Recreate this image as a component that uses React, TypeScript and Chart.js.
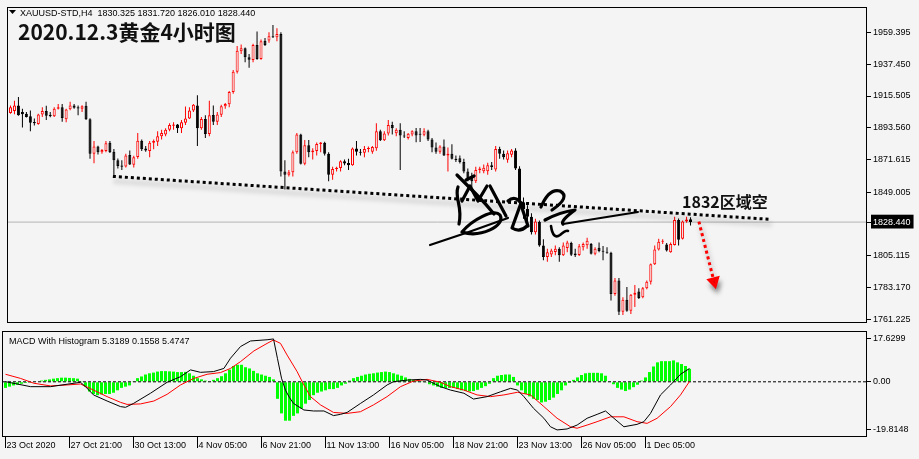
import React, { useEffect, useRef } from 'react';
import { Chart, registerables } from 'chart.js';

Chart.register(...registerables);

const BG = '#f4f4f4';
const UP = '#ff0000';
const DOWN = '#000000';
const MT_FONT = '"Liberation Sans", Arial, sans-serif';

// H4 candles, [open, high, low, close], bar index 0 = 23 Oct 2020
const ohlc: number[][] = [
  [1903.8, 1908.9, 1903.2, 1907.8], [1905.1, 1912.2, 1902.9, 1908.9], [1908.9, 1914.9, 1901.8, 1902.2], [1904.4, 1906.7, 1893.8, 1902.9],
  [1903.3, 1904.4, 1900.7, 1901.1], [1901.5, 1905.5, 1891.1, 1897.1], [1897.6, 1900.0, 1895.1, 1896.7], [1896.2, 1903.3, 1895.7, 1902.7],
  [1902.7, 1907.8, 1901.1, 1905.1], [1905.1, 1908.7, 1898.9, 1901.8], [1902.5, 1904.4, 1900.8, 1901.5], [1901.6, 1907.8, 1901.1, 1906.7],
  [1906.7, 1910.0, 1906.2, 1907.8], [1907.8, 1910.0, 1897.8, 1900.4], [1899.5, 1906.7, 1897.4, 1906.2], [1906.4, 1911.6, 1905.6, 1908.9],
  [1908.9, 1910.0, 1906.7, 1907.4], [1907.8, 1908.9, 1902.2, 1906.9], [1906.7, 1909.2, 1904.4, 1908.5], [1908.7, 1911.6, 1899.0, 1899.4],
  [1899.4, 1900.2, 1872.2, 1875.6], [1875.6, 1884.4, 1869.1, 1880.7], [1880.7, 1881.2, 1875.1, 1876.7], [1876.7, 1878.9, 1875.6, 1878.3],
  [1877.6, 1884.4, 1876.7, 1882.9], [1883.2, 1884.4, 1876.2, 1876.7], [1877.0, 1878.9, 1859.0, 1871.2], [1871.2, 1872.3, 1865.5, 1867.2],
  [1867.6, 1871.2, 1864.4, 1866.7], [1866.9, 1875.6, 1866.2, 1874.5], [1874.8, 1877.8, 1867.8, 1868.3], [1868.1, 1874.3, 1866.1, 1873.2],
  [1873.4, 1889.9, 1872.2, 1884.7], [1884.7, 1885.5, 1877.6, 1878.7], [1879.2, 1881.0, 1877.1, 1877.8], [1877.6, 1884.4, 1873.2, 1883.2],
  [1883.2, 1885.5, 1878.7, 1884.4], [1884.0, 1891.1, 1881.0, 1887.7], [1887.7, 1892.2, 1885.5, 1889.9], [1889.0, 1893.3, 1887.7, 1892.2],
  [1892.2, 1896.7, 1891.1, 1895.5], [1895.0, 1897.4, 1892.2, 1895.8], [1895.8, 1896.2, 1889.9, 1893.3], [1893.3, 1898.9, 1889.9, 1897.4],
  [1897.0, 1908.2, 1895.5, 1900.0], [1900.0, 1907.8, 1899.6, 1905.5], [1905.5, 1910.0, 1904.4, 1909.4], [1909.0, 1916.0, 1881.0, 1893.3],
  [1893.3, 1901.1, 1892.2, 1899.6], [1899.6, 1902.2, 1886.6, 1889.3], [1889.3, 1912.2, 1887.7, 1902.2], [1902.4, 1908.9, 1895.5, 1897.7],
  [1897.7, 1904.4, 1895.5, 1902.7], [1902.5, 1909.4, 1901.1, 1908.5], [1908.4, 1910.7, 1906.7, 1910.0], [1909.8, 1918.9, 1907.8, 1918.2],
  [1918.2, 1933.4, 1917.0, 1932.2], [1932.2, 1950.1, 1931.1, 1946.7], [1946.5, 1951.1, 1944.5, 1948.5], [1948.5, 1949.0, 1938.9, 1942.3],
  [1942.3, 1944.5, 1935.1, 1940.5], [1940.3, 1951.6, 1938.9, 1950.7], [1950.8, 1960.1, 1940.5, 1941.1], [1941.1, 1954.5, 1940.5, 1953.4],
  [1953.6, 1955.6, 1950.1, 1950.7], [1953.8, 1959.6, 1952.3, 1956.7], [1956.7, 1964.5, 1955.6, 1956.1], [1956.1, 1962.3, 1953.4, 1958.3],
  [1958.3, 1959.5, 1860.0, 1863.3], [1863.3, 1871.2, 1851.0, 1861.1], [1861.1, 1864.4, 1860.0, 1862.9], [1862.9, 1877.8, 1860.0, 1876.7],
  [1876.7, 1890.0, 1875.6, 1888.9], [1888.9, 1889.5, 1868.3, 1868.8], [1868.8, 1885.1, 1867.7, 1881.5], [1881.5, 1885.1, 1873.3, 1876.7],
  [1876.7, 1879.4, 1871.7, 1877.8], [1877.6, 1883.4, 1874.4, 1882.3], [1882.3, 1883.8, 1876.7, 1883.4], [1883.2, 1884.0, 1874.4, 1875.6],
  [1875.6, 1876.7, 1856.7, 1861.1], [1861.1, 1866.7, 1857.7, 1865.1], [1865.1, 1866.7, 1863.3, 1866.0], [1865.8, 1871.1, 1863.3, 1870.4],
  [1870.4, 1871.7, 1867.7, 1868.9], [1869.2, 1872.2, 1864.4, 1867.7], [1867.7, 1880.0, 1867.3, 1879.3], [1879.3, 1884.4, 1874.4, 1877.1],
  [1877.1, 1878.9, 1874.4, 1876.4], [1876.4, 1881.0, 1873.3, 1878.9], [1878.9, 1880.7, 1876.7, 1879.5], [1877.0, 1881.0, 1875.6, 1880.3],
  [1879.5, 1896.7, 1877.7, 1891.1], [1891.1, 1892.2, 1884.4, 1884.9], [1884.9, 1891.1, 1884.4, 1889.6], [1889.6, 1898.9, 1888.2, 1895.5],
  [1895.5, 1897.8, 1888.9, 1893.3], [1889.8, 1893.3, 1887.7, 1892.2], [1892.2, 1896.7, 1864.4, 1888.2], [1888.2, 1891.1, 1886.6, 1887.5],
  [1886.6, 1890.0, 1885.5, 1889.4], [1889.0, 1891.8, 1887.7, 1891.1], [1891.1, 1893.5, 1883.5, 1888.2], [1889.3, 1893.5, 1883.8, 1888.7],
  [1888.7, 1893.3, 1887.7, 1891.1], [1891.1, 1892.2, 1884.4, 1885.5], [1885.5, 1886.6, 1876.7, 1880.0], [1880.0, 1883.4, 1875.6, 1877.1],
  [1877.1, 1881.5, 1875.6, 1880.7], [1880.7, 1885.5, 1874.0, 1874.4], [1874.4, 1880.0, 1863.3, 1875.6], [1875.6, 1882.2, 1871.7, 1872.2],
  [1872.2, 1874.4, 1870.0, 1871.3], [1872.5, 1874.4, 1868.9, 1870.0], [1870.0, 1872.2, 1862.2, 1863.3], [1863.3, 1865.5, 1856.7, 1858.9],
  [1860.0, 1862.5, 1852.2, 1856.7], [1856.7, 1866.7, 1855.5, 1864.4], [1864.4, 1866.7, 1862.2, 1865.5], [1863.5, 1868.2, 1862.2, 1866.0],
  [1863.5, 1869.5, 1861.1, 1867.7], [1867.7, 1870.0, 1864.4, 1866.5], [1864.8, 1881.0, 1863.3, 1879.0], [1879.0, 1880.5, 1872.2, 1875.6],
  [1875.6, 1877.8, 1871.7, 1873.3], [1871.5, 1877.8, 1869.5, 1876.0], [1875.0, 1878.9, 1873.3, 1877.8], [1877.8, 1879.4, 1864.4, 1865.5],
  [1865.5, 1867.0, 1837.5, 1842.2], [1842.2, 1845.5, 1830.8, 1837.5], [1837.5, 1840.0, 1829.0, 1832.2], [1832.2, 1834.5, 1819.8, 1821.5],
  [1821.5, 1830.8, 1819.8, 1828.8], [1828.5, 1829.5, 1811.5, 1812.2], [1812.2, 1816.6, 1802.1, 1804.3], [1804.3, 1810.0, 1801.0, 1807.7],
  [1806.0, 1810.0, 1804.3, 1808.8], [1807.8, 1812.2, 1805.5, 1810.0], [1810.0, 1811.0, 1801.0, 1805.5], [1805.5, 1814.4, 1805.0, 1812.2],
  [1810.5, 1815.5, 1807.7, 1814.4], [1814.0, 1814.8, 1805.0, 1805.9], [1806.8, 1810.0, 1804.3, 1805.5], [1805.8, 1813.3, 1805.0, 1811.7],
  [1811.0, 1814.4, 1808.8, 1813.3], [1812.5, 1817.7, 1810.0, 1815.5], [1813.3, 1814.0, 1806.0, 1806.6], [1806.6, 1811.0, 1805.5, 1810.0],
  [1810.8, 1814.4, 1807.7, 1808.5], [1808.5, 1812.0, 1802.1, 1807.9], [1807.9, 1811.0, 1806.6, 1807.3], [1807.3, 1808.0, 1774.3, 1778.8],
  [1778.8, 1789.9, 1777.6, 1788.1], [1788.1, 1789.9, 1764.3, 1766.6], [1766.6, 1776.6, 1764.3, 1774.8], [1774.8, 1783.7, 1766.6, 1767.2],
  [1767.2, 1778.8, 1765.0, 1778.3], [1778.3, 1785.0, 1769.9, 1779.6], [1780.5, 1782.8, 1775.4, 1776.1], [1776.5, 1783.7, 1775.8, 1782.8],
  [1782.8, 1788.1, 1782.1, 1787.3], [1787.3, 1799.9, 1785.4, 1799.3], [1799.3, 1812.2, 1798.8, 1809.5], [1809.5, 1817.0, 1808.8, 1814.8],
  [1814.8, 1816.6, 1813.3, 1815.5], [1813.0, 1814.0, 1808.1, 1808.8], [1807.7, 1814.4, 1807.3, 1813.3], [1812.6, 1832.2, 1812.2, 1829.9],
  [1829.9, 1831.0, 1812.2, 1816.2], [1817.0, 1829.5, 1816.5, 1828.8], [1828.8, 1832.2, 1828.0, 1830.3], [1830.325, 1831.72, 1826.01, 1828.44],
];

const lastPrice = 1828.44;
const priceTicks = [1959.395, 1937.45, 1915.505, 1893.56, 1871.615, 1849.005, 1828.44, 1805.115, 1783.17, 1761.225];

// MACD histogram (one value per candle)
const histogram = [
  -2.5, -2.0, -1.5, -1.2, -0.8, -0.5, -0.3, -0.2, 0.2, 0.5, 0.8, 1.0, 1.3, 1.5, 1.7, 1.7, 1.6, 1.5, 1.3,
  0.3,
  -2.0, -4.0, -5.0, -5.5, -5.2, -5.0, -5.0, -4.5, -3.5, -2.5, -2.0, -1.5, 0.3,
  1.5, 2.2, 3.0, 3.5, 3.8, 4.2, 4.4, 4.4, 4.3, 4.2, 4.0, 4.0, 4.1, 3.5, 2.5, 1.5, 1.0, 0.5, 0.3,
  0.8, 1.5, 2.3, 3.5, 5.0, 6.5, 7.0, 7.0, 6.0, 5.5, 4.5, 3.5, 3.0, 2.5, 2.0, 1.0,
  -7, -13, -16, -16, -14, -13, -11, -9, -7.5, -5.5, -4.5, -4, -3.5, -3, -3, -2.5, -1.5, -0.8,
  0.5, 1.5, 2, 2.5, 3, 3.3, 3.5, 3.8, 4, 4.2, 4, 3.5, 3, 2.5, 1.8, 1.2, 0.8, 0.5, 0.3,
  -0.3, -1, -1.5, -2, -2.5, -2.5, -2.5, -2.5, -3, -3.5, -3.8, -4.0, -3.8, -3.3, -2.5, -1.8, -0.8,
  1.5, 2.5, 2.8, 3.0, 3.0, 2.0,
  -1.5, -3.5, -5, -6, -7, -7.5, -8.5, -8.2, -7.5, -6.5, -5, -3.5, -1.5, -0.5,
  0.8, 1.8, 2.8, 3.5, 3.7, 3.7, 3.7, 3.5, 2.5, 0.3,
  -1.0, -2.5, -3.2, -3.8, -3.2, -2.2, -1.2,
  0.5, 1.8, 4, 6.3, 8, 8.5, 8.5, 8.5, 8.8, 8.0, 7.3, 6.5, 5.32,
];

// MACD main line (black), read at these bar positions
const macdBars = [0, 6.25, 11.25, 15.4, 18.75, 20, 22, 25.4, 28.75, 30, 32, 36.25, 40.4, 43.75, 46.25, 48.75, 52, 54.6, 56.25, 58.75,
  61.25, 65.4, 67, 68, 69, 70, 71, 72, 74.6, 77, 79.6, 82, 83.75, 85.4, 88.75, 92, 95.4, 97, 100.4, 103.75, 105.4, 108.75,
  111.25, 114.6, 117, 120.4, 123.75, 126.25, 128, 129.6, 132, 134.6, 136.25, 137.9, 140.4, 142.9, 145.4, 147.9, 150, 152.1,
  154.6, 157.9, 159.6, 161.25, 163.75, 166.25, 168.75, 171];
const macdValues = [0.05, -2.0, -2.0, -1.0, -0.2, -2.0, -5.4, -7.9, -10.2, -10.5, -8.9, -4.7, -0.2, 2.1, 4.9, 3.9, 4.2, 5.5, 9.7, 14.5,
  16.8, 17.3, 17.63, 9.5, 1.5, -3.5, -6.5, -8.9, -11.6, -12.0, -12.0, -13.9, -13.4, -12.6, -8.9, -5.4, -1.3, 0.05, 0.7, 1.0, 0.7, -2.0,
  -3.4, -4.7, -7.1, -6.1, -4.1, -2.7, -3.4, -6.1, -10.9, -15.0, -18.5, -19.8, -19.4, -17.8, -15.0, -13.4, -12.0, -15.0,
  -18.5, -17.5, -16.4, -13.0, -5.4, -1.3, 3.1, 5.4747];

// Signal line (red)
const signalBars = [0, 3.75, 7.1, 11.25, 15.4, 18.75, 22, 25.4, 28.75, 30.4, 33.75, 37.1, 40.4, 43.75, 47.1, 50.4, 53.75, 56.25, 58.75,
  62.1, 65.4, 67, 68.75, 70.4, 72.9, 74.6, 76.25, 78.75, 82, 85.4, 88.75, 92, 95.4, 98.75, 102, 105.4, 108.75, 111.25, 114.6, 117.9,
  121.25, 124.6, 128, 131.25, 134.6, 137.9, 141.25, 142.9, 145.4, 147.9, 151.25, 154.6, 157.9, 160.4, 162.9, 166.25, 168.75, 171];
const signalValues = [3.1, 1.4, -0.6, -1.7, -1.3, -0.9, -3.4, -6.1, -8.45, -9.3, -9.1, -7.9, -5.15, -1.3, 1.4, 3.1, 3.8, 5.5, 8.3,
  12.7, 15.8, 17.2, 15.8, 11.0, 4.2, -1.3, -6.1, -9.5, -12.6, -13.0, -12.3, -9.5, -6.1, -2.0, 0.3, 1.0, -0.2, -2.0, -3.4, -5.4,
  -6.1, -5.4, -4.3, -5.4, -10.2, -15.0, -18.5, -19.1, -17.8, -16.4, -14.4, -14.4, -16.4, -17.1, -15.0, -10.2, -5.4, 0.1558];

const macdTicks = [17.6299, 0, -19.8148];
const timeLabelBars = [0, 16, 32, 48, 64, 80, 96, 112, 128, 144, 160];
const timeLabels = ['23 Oct 2020', '27 Oct 21:00', '30 Oct 13:00', '4 Nov 05:00', '6 Nov 21:00', '11 Nov 13:00',
  '16 Nov 05:00', '18 Nov 21:00', '23 Nov 13:00', '26 Nov 05:00', '1 Dec 05:00'];

// Hand-drawn annotations (bar position, price)
const trendBars = [25.75, 191.25];
const trendPrices = [1860.0, 1830.3];
const arrowBars = [173.1, 176.9];
const arrowPrices = [1828.8, 1787.5];

const X_MIN = -0.625;
const X_MAX = 215.375;
const Y_MIN = 1758.77;
const Y_MAX = 1976.28;
const M_MIN = -22.71;
const M_MAX = 20.49;

const framePlugin = {
  id: 'frame',
  beforeDraw(chart: any) {
    const { ctx, width, height } = chart;
    ctx.save();
    ctx.fillStyle = BG;
    ctx.fillRect(0, 0, width, height);
    ctx.restore();
  },
  afterDraw(chart: any) {
    const { ctx, chartArea: a } = chart;
    ctx.save();
    ctx.strokeStyle = '#000';
    ctx.lineWidth = 1;
    ctx.strokeRect(a.left - 0.5, a.top - 0.5, a.right - a.left, a.bottom - a.top);
    ctx.restore();
  },
};

const shadowPlugin = {
  id: 'dsShadow',
  beforeDatasetDraw(chart: any, args: any) {
    const ds = chart.data.datasets[args.index];
    if (ds && ds.shadow) {
      const ctx = chart.ctx;
      ctx.save();
      ctx.shadowColor = 'rgba(0,0,0,0.35)';
      ctx.shadowBlur = 5;
      ctx.shadowOffsetX = 2;
      ctx.shadowOffsetY = 5;
    }
  },
  afterDatasetDraw(chart: any, args: any) {
    const ds = chart.data.datasets[args.index];
    if (ds && ds.shadow) chart.ctx.restore();
  },
};

// handwritten author signature overlaid on the screenshot (decoration)
const signaturePlugin = {
  id: 'signature',
  afterDatasetsDraw(chart: any) {
    const ctx = chart.ctx;
    ctx.save();
    ctx.strokeStyle = '#000';
    ctx.lineCap = 'round';
    ctx.lineJoin = 'round';
    ctx.lineWidth = 3.2;
    const stroke = (f: () => void) => { ctx.beginPath(); f(); ctx.stroke(); };
    // left character
    stroke(() => { ctx.moveTo(458, 187); ctx.bezierCurveTo(454, 198, 463, 206, 459, 224); });
    stroke(() => { ctx.moveTo(457, 175); ctx.lineTo(476, 194); ctx.quadraticCurveTo(486, 204, 494, 214); });
    stroke(() => { ctx.moveTo(462, 201); ctx.lineTo(470, 186); ctx.lineTo(478, 201); ctx.lineTo(487, 186); });
    stroke(() => { ctx.moveTo(466, 180); ctx.lineTo(474, 176); });
    stroke(() => { ctx.moveTo(462, 232); ctx.bezierCurveTo(480, 238, 506, 226, 500, 215); ctx.bezierCurveTo(494, 208, 472, 220, 462, 232); });
    ctx.lineWidth = 2.2;
    stroke(() => { ctx.moveTo(430, 245); ctx.quadraticCurveTo(470, 232, 508, 218); });
    ctx.lineWidth = 3.2;
    // middle character
    stroke(() => { ctx.moveTo(490, 186); ctx.lineTo(506, 216); });
    stroke(() => { ctx.moveTo(508, 201); ctx.quadraticCurveTo(515, 195, 521, 203); ctx.lineTo(512, 228); ctx.quadraticCurveTo(520, 233, 527, 226); });
    stroke(() => { ctx.moveTo(521, 205); ctx.lineTo(528, 226); });
    // right character
    stroke(() => { ctx.moveTo(541, 207); ctx.quadraticCurveTo(549, 188, 560, 191); ctx.quadraticCurveTo(571, 197, 552, 210); });
    stroke(() => { ctx.moveTo(545, 220); ctx.quadraticCurveTo(560, 212, 575, 210); ctx.quadraticCurveTo(560, 221, 563, 224); });
    ctx.lineWidth = 2;
    stroke(() => { ctx.moveTo(563, 224); ctx.quadraticCurveTo(600, 218, 638, 212); });
    ctx.lineWidth = 2.6;
    stroke(() => { ctx.moveTo(551, 226); ctx.quadraticCurveTo(553, 240, 560, 235); ctx.quadraticCurveTo(566, 230, 568, 231); });
    ctx.restore();
  },
};

export default function App() {
  const mainRef = useRef<HTMLCanvasElement | null>(null);
  const macdRef = useRef<HTMLCanvasElement | null>(null);

  useEffect(() => {
    document.body.style.margin = '0';
    document.body.style.background = BG;
    Chart.defaults.font.family = MT_FONT;
    Chart.defaults.font.size = 9;

    const isUp = ohlc.map((c) => c[3] >= c[0]);
    const bodyData = ohlc.map((c, i) => ({ x: i, y: [c[0], c[3]] }));
    const wickData = ohlc.map((c, i) => ({ x: i, y: [c[2], c[1]] }));

    const mainTexts = {
      id: 'mainTexts',
      afterDraw(chart: any) {
        const ctx = chart.ctx;
        ctx.save();
        ctx.fillStyle = '#000';
        ctx.beginPath();
        ctx.moveTo(9, 10);
        ctx.lineTo(16, 10);
        ctx.lineTo(12.5, 14);
        ctx.closePath();
        ctx.fill();
        ctx.font = '9px ' + MT_FONT;
        ctx.textBaseline = 'alphabetic';
        ctx.fillText('XAUUSD-STD,H4  1830.325 1831.720 1826.010 1828.440', 20, 16);
        ctx.fillStyle = '#111';
        ctx.font = 'bold 21px "Noto Sans CJK SC", sans-serif';
        ctx.fillText('2020.12.3黄金4小时图', 18, 40);
        ctx.font = 'bold 16px "Noto Sans CJK SC", sans-serif';
        ctx.fillText('1832区域空', 682, 208);
        ctx.restore();
      },
    };

    const main = new Chart(mainRef.current as HTMLCanvasElement, {
      type: 'bar',
      data: {
        datasets: [
          {
            type: 'line',
            label: 'trend',
            data: trendBars.map((b, k) => ({ x: b, y: trendPrices[k] })),
            borderColor: '#000',
            borderWidth: 3,
            borderDash: [3, 3],
            pointRadius: 0,
            order: 0,
            shadow: true,
          } as any,
          {
            type: 'line',
            label: 'arrow',
            data: arrowBars.map((b, k) => ({ x: b, y: arrowPrices[k] })),
            borderColor: '#ff0000',
            borderWidth: 3,
            borderDash: [3, 3],
            pointRadius: [0, 5],
            pointStyle: 'triangle',
            pointRotation: 166,
            pointBackgroundColor: '#ff0000',
            pointBorderColor: '#ff0000',
            order: 0,
            shadow: true,
          } as any,
          {
            type: 'bar',
            label: 'body',
            data: bodyData,
            backgroundColor: isUp.map((u) => (u ? BG : DOWN)),
            borderColor: isUp.map((u) => (u ? UP : DOWN)),
            borderWidth: 1,
            borderSkipped: false,
            barThickness: 3,
            grouped: false,
            inflateAmount: 0,
            minBarLength: 1,
            order: 1,
          } as any,
          {
            type: 'bar',
            label: 'wick',
            data: wickData,
            backgroundColor: isUp.map((u) => (u ? UP : DOWN)),
            borderWidth: 0,
            barThickness: 1,
            grouped: false,
            inflateAmount: 0,
            order: 2,
          } as any,
          {
            type: 'line',
            label: 'bid',
            data: [{ x: X_MIN, y: lastPrice }, { x: X_MAX, y: lastPrice }],
            borderColor: '#b4b4b4',
            borderWidth: 1,
            pointRadius: 0,
            order: 3,
          } as any,
        ],
      },
      options: {
        responsive: false,
        animation: false,
        events: [],
        layout: { padding: { left: 3, top: 4, right: 0, bottom: 1 } },
        plugins: { legend: { display: false }, tooltip: { enabled: false }, title: { display: false } },
        scales: {
          x: { type: 'linear', min: X_MIN, max: X_MAX, offset: false, display: false, grid: { display: false, offset: false } },
          y: {
            type: 'linear',
            position: 'right',
            min: Y_MIN,
            max: Y_MAX,
            beginAtZero: false,
            afterFit: (s: any) => { s.width = 52; s.paddingTop = 0; s.paddingBottom = 0; },
            afterBuildTicks: (s: any) => { s.ticks = priceTicks.map((v) => ({ value: v })); },
            ticks: {
              autoSkip: false,
              padding: 2,
              font: { family: MT_FONT, size: 9 },
              color: (c: any) => (c.tick && c.tick.value === lastPrice ? '#fff' : '#000'),
              showLabelBackdrop: (c: any) => !!(c.tick && c.tick.value === lastPrice),
              backdropColor: '#000',
              backdropPadding: { top: 2, bottom: 1, left: 2, right: 3 },
              callback: (v: any) => Number(v).toFixed(3),
            },
            grid: { drawOnChartArea: false, drawTicks: true, tickLength: 4, tickColor: '#000', color: '#000' },
            border: { display: false },
          } as any,
        },
      },
      plugins: [framePlugin, shadowPlugin, signaturePlugin, mainTexts],
    });

    const macdTexts = {
      id: 'macdTexts',
      afterDraw(chart: any) {
        const ctx = chart.ctx;
        ctx.save();
        ctx.fillStyle = '#000';
        ctx.font = '9px ' + MT_FONT;
        ctx.textBaseline = 'alphabetic';
        ctx.fillText('MACD With Histogram 5.3189 0.1558 5.4747', 9, 13);
        ctx.restore();
      },
    };

    const macd = new Chart(macdRef.current as HTMLCanvasElement, {
      type: 'bar',
      data: {
        datasets: [
          {
            type: 'line',
            label: 'MACD',
            data: macdBars.map((b, k) => ({ x: b, y: macdValues[k] })),
            borderColor: '#000',
            borderWidth: 1,
            pointRadius: 0,
            order: 0,
          } as any,
          {
            type: 'line',
            label: 'Signal',
            data: signalBars.map((b, k) => ({ x: b, y: signalValues[k] })),
            borderColor: '#ff0000',
            borderWidth: 1,
            pointRadius: 0,
            order: 0,
          } as any,
          {
            type: 'line',
            label: 'zero',
            data: [{ x: X_MIN, y: 0 }, { x: X_MAX, y: 0 }],
            borderColor: '#000',
            borderWidth: 1,
            borderDash: [3, 2],
            pointRadius: 0,
            order: 1,
          } as any,
          {
            type: 'bar',
            label: 'Histogram',
            data: histogram.map((v, i) => ({ x: i, y: v })),
            backgroundColor: '#00ff00',
            borderWidth: 0,
            barThickness: 3,
            grouped: false,
            inflateAmount: 0,
            order: 2,
          } as any,
        ],
      },
      options: {
        responsive: false,
        animation: false,
        events: [],
        layout: { padding: { left: 3, top: 1, right: 0, bottom: 0 } },
        plugins: { legend: { display: false }, tooltip: { enabled: false }, title: { display: false } },
        scales: {
          x: {
            type: 'linear',
            min: X_MIN,
            max: X_MAX,
            offset: false,
            position: 'bottom',
            afterFit: (s: any) => { s.height = 22; s.paddingLeft = 0; s.paddingRight = 0; },
            afterBuildTicks: (s: any) => { s.ticks = timeLabelBars.map((v) => ({ value: v })); },
            ticks: {
              autoSkip: false,
              maxRotation: 0,
              minRotation: 0,
              align: 'start',
              labelOffset: 1,
              padding: -8,
              color: '#000',
              font: { family: MT_FONT, size: 9 },
              callback: (v: any) => {
                const k = timeLabelBars.indexOf(Number(v));
                return k >= 0 ? timeLabels[k] : '';
              },
            },
            grid: { drawOnChartArea: false, drawTicks: true, offset: false, tickLength: 11, tickColor: '#000', color: '#000' },
            border: { display: false },
          } as any,
          y: {
            type: 'linear',
            position: 'right',
            min: M_MIN,
            max: M_MAX,
            beginAtZero: false,
            afterFit: (s: any) => { s.width = 52; s.paddingTop = 0; s.paddingBottom = 0; },
            afterBuildTicks: (s: any) => { s.ticks = macdTicks.map((v) => ({ value: v })); },
            ticks: {
              autoSkip: false,
              padding: 2,
              color: '#000',
              font: { family: MT_FONT, size: 9 },
              callback: (v: any) => (Number(v) === 0 ? '0.00' : String(v)),
            },
            grid: { drawOnChartArea: false, drawTicks: true, tickLength: 4, tickColor: '#000', color: '#000' },
            border: { display: false },
          } as any,
        },
      },
      plugins: [framePlugin, macdTexts],
    });

    return () => {
      main.destroy();
      macd.destroy();
    };
  }, []);

  return (
    <div style={{ position: 'fixed', left: 0, top: 0, width: 919, height: 459, background: BG, overflow: 'hidden' }}>
      <canvas ref={mainRef} width={919} height={331} style={{ position: 'absolute', left: 0, top: 0, width: 919, height: 331 }} />
      <canvas ref={macdRef} width={919} height={128} style={{ position: 'absolute', left: 0, top: 331, width: 919, height: 128 }} />
    </div>
  );
}
